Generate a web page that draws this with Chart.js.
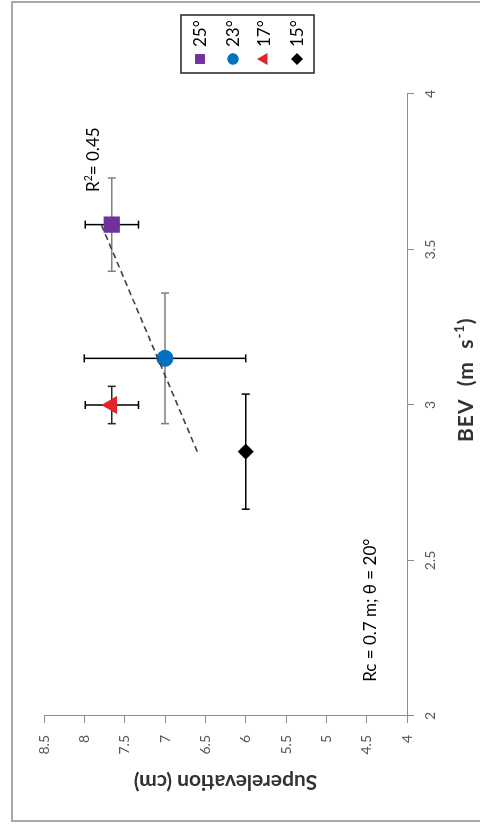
<!DOCTYPE html>
<html><head><meta charset="utf-8">
<script src="https://cdn.jsdelivr.net/npm/chart.js@4.4.1/dist/chart.umd.min.js"></script>
<style>
html,body{margin:0;padding:0;background:#fff;overflow:hidden;width:480px;height:825px;}
#wrap{position:absolute;left:0;top:0;width:825px;height:480px;transform-origin:0 0;transform:translate(0,825px) rotate(-90deg);}
canvas{position:absolute;left:0;top:0;}
</style></head><body>
<div id="wrap"><canvas id="c" width="825" height="480"></canvas></div>
<script>
// ---- data ----
const categories = ['25°', '23°', '17°', '15°'];
const bev = [3.58, 3.15, 3.0, 2.85];            // BEV (m s-1)
const superelevation = [7.66, 7.0, 7.66, 6.0];  // Superelevation (cm)
const bevErr = [0.15, 0.21, 0.06, 0.185];
const superErr = [0.33, 1.0, 0.33, 0];
const trendBev = [2.85, 3.58];
const trendSuper = [6.6, 7.79];
const xTickLabels = ['2', '2.5', '3', '3.5', '4'];
const yTickLabels = ['4', '4.5', '5', '5.5', '6', '6.5', '7', '7.5', '8', '8.5'];
const r2Label = '0.45';
const noteLabel = 'Rc = 0.7 m; θ = 20°';

const FONT = 'Lato, "Open Sans", sans-serif';
const markerColors = ['#7030A0', '#0070C0', '#E0262B', '#000000'];
const markerStyles = ['rect', 'circle', 'triangle', 'rectRot'];
const markerRadius = [11.5, 8.5, 10.5, 8];
const legendRadius = [7, 5.8, 7, 6];
const bevErrColors = ['#7f7f7f', '#7f7f7f', '#262626', '#000000'];

const datasets = [{
  label: 'trend',
  type: 'line',
  data: trendBev.map((v, i) => ({x: v, y: trendSuper[i]})),
  borderColor: '#404040',
  borderWidth: 1.6,
  borderDash: [6, 4],
  pointRadius: 0,
  fill: false,
  order: -1
}].concat(categories.map((c, i) => ({
  label: c,
  data: [{x: bev[i], y: superelevation[i]}],
  pointStyle: markerStyles[i],
  pointRadius: markerRadius[i],
  pointHoverRadius: markerRadius[i],
  backgroundColor: markerColors[i],
  borderColor: markerColors[i],
  borderWidth: 0,
  order: i
})));

function drawRich(ctx, parts, x, y, size, bold, color, spacing) {
  let cx = x;
  ctx.fillStyle = color;
  ctx.textBaseline = 'alphabetic';
  ctx.textAlign = 'left';
  ctx.letterSpacing = (spacing || 0) + 'px';
  parts.forEach(p => {
    const s = p.sup ? size * 0.62 : size;
    ctx.font = (bold ? 'bold ' : '') + s + 'px ' + FONT;
    ctx.fillText(p.t, cx, p.sup ? y - size * 0.42 : y);
    cx += ctx.measureText(p.t).width;
  });
  ctx.letterSpacing = '0px';
}

const extras = {
  id: 'extras',
  beforeDraw(chart) {
    const ctx = chart.ctx;
    ctx.save();
    ctx.fillStyle = '#fff';
    ctx.fillRect(0, 0, chart.width, chart.height);
    ctx.strokeStyle = '#a8a8a8';
    ctx.lineWidth = 2;
    ctx.strokeRect(4, 12, 819, 500);
    ctx.restore();
  },
  beforeDatasetsDraw(chart) {
    const ctx = chart.ctx, xs = chart.scales.x, ys = chart.scales.y;
    ctx.save();
    ctx.lineWidth = 1.5;
    categories.forEach((c, i) => {
      const px = xs.getPixelForValue(bev[i]);
      const py = ys.getPixelForValue(superelevation[i]);
      const cap = 4;
      if (bevErr[i] > 0) {
        const x1 = xs.getPixelForValue(bev[i] - bevErr[i]);
        const x2 = xs.getPixelForValue(bev[i] + bevErr[i]);
        ctx.strokeStyle = bevErrColors[i];
        ctx.beginPath();
        ctx.moveTo(x1, py); ctx.lineTo(x2, py);
        ctx.moveTo(x1, py - cap); ctx.lineTo(x1, py + cap);
        ctx.moveTo(x2, py - cap); ctx.lineTo(x2, py + cap);
        ctx.stroke();
      }
      if (superErr[i] > 0) {
        const y1 = ys.getPixelForValue(superelevation[i] - superErr[i]);
        const y2 = ys.getPixelForValue(superelevation[i] + superErr[i]);
        ctx.strokeStyle = '#000';
        ctx.beginPath();
        ctx.moveTo(px, y1); ctx.lineTo(px, y2);
        ctx.moveTo(px - cap, y1); ctx.lineTo(px + cap, y1);
        ctx.moveTo(px - cap, y2); ctx.lineTo(px + cap, y2);
        ctx.stroke();
      }
    });
    ctx.restore();
  },
  afterDraw(chart) {
    const ctx = chart.ctx, xs = chart.scales.x, ys = chart.scales.y;
    ctx.save();
    // R^2 annotation
    drawRich(ctx, [{t: 'R'}, {t: '2', sup: true}, {t: '= ' + r2Label}],
      xs.getPixelForValue(3.685), ys.getPixelForValue(7.89) + 6, 17, false, '#000', 0);
    // note
    ctx.font = '17px ' + FONT;
    ctx.fillStyle = '#000';
    ctx.textAlign = 'left';
    ctx.textBaseline = 'middle';
    ctx.fillText(noteLabel, xs.getPixelForValue(2.11), ys.getPixelForValue(4.45));
    // y axis title (rotated)
    ctx.save();
    ctx.translate(43, (chart.chartArea.top + chart.chartArea.bottom) / 2);
    ctx.rotate(-Math.PI / 2);
    ctx.font = 'bold 21px ' + FONT;
    ctx.fillStyle = '#333';
    ctx.textAlign = 'center';
    ctx.textBaseline = 'middle';
    ctx.fillText('Superelevation (cm)', 0, 0);
    ctx.restore();
    // x axis title
    drawRich(ctx, [{t: 'BEV  (m  s'}, {t: '-1', sup: true}, {t: ')'}], 383, 473, 21, true, '#333', 1);
    // legend
    ctx.strokeStyle = '#222';
    ctx.lineWidth = 1.5;
    ctx.strokeRect(752, 181, 58, 133);
    const rows = [200, 233, 264, 297];
    categories.forEach((c, i) => {
      ctx.fillStyle = markerColors[i];
      ctx.strokeStyle = markerColors[i];
      Chart.helpers.drawPoint(ctx, {pointStyle: markerStyles[i], radius: legendRadius[i], rotation: 0, borderWidth: 0},
        766, rows[i]);
      ctx.fillStyle = '#000';
      ctx.font = '17px ' + FONT;
      ctx.textAlign = 'left';
      ctx.textBaseline = 'middle';
      ctx.fillText(c, 778, rows[i] + 1);
    });
    ctx.restore();
  }
};

new Chart(document.getElementById('c'), {
  type: 'scatter',
  data: {datasets},
  options: {
    responsive: false,
    animation: false,
    devicePixelRatio: 1,
    layout: {padding: {left: 0, right: 94, top: 44, bottom: 0}},
    plugins: {legend: {display: false}, tooltip: {enabled: false}},
    scales: {
      x: {
        type: 'linear', position: 'bottom', min: 2, max: 4,
        afterFit(s) { s.height = 73; },
        border: {display: true, color: '#8c8c8c', width: 1},
        grid: {drawOnChartArea: false, drawTicks: true, tickLength: 7, color: '#8c8c8c'},
        ticks: {stepSize: 0.5, padding: 8, color: '#595959', font: {family: FONT, size: 14},
          maxRotation: 0, callback: (v, i) => xTickLabels[i]}
      },
      y: {
        type: 'linear', position: 'left', min: 4, max: 8.5,
        afterFit(s) { s.width = 109; },
        border: {display: true, color: '#8c8c8c', width: 1},
        grid: {drawOnChartArea: false, drawTicks: true, tickLength: 7, color: '#8c8c8c'},
        ticks: {stepSize: 0.5, padding: 12, color: '#595959', font: {family: FONT, size: 14},
          callback: (v, i) => yTickLabels[i]}
      }
    }
  },
  plugins: [extras]
});
</script>
</body></html>
